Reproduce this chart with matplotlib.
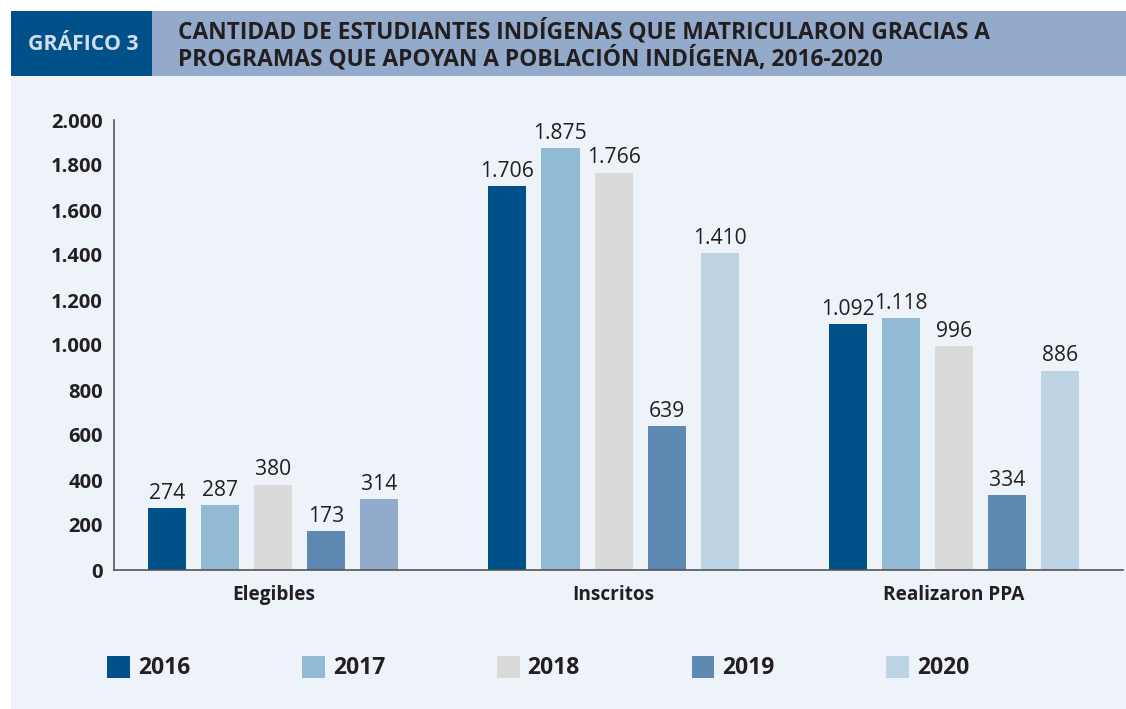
import matplotlib.pyplot as plt
import numpy as np
from matplotlib.patches import Rectangle, Patch

plt.rcParams['font.family'] = ['Open Sans', 'DejaVu Sans']

# Data
categories = ['Elegibles', 'Inscritos', 'Realizaron PPA']
years = ['2016', '2017', '2018', '2019', '2020']
values = {
    '2016': [274, 1706, 1092],
    '2017': [287, 1875, 1118],
    '2018': [380, 1766, 996],
    '2019': [173, 639, 334],
    '2020': [314, 1410, 886],
}
colors = ['#00508A', '#93BAD5', '#DADADA', '#5D89B3', '#BED4E4']
# first 2020 bar (Elegibles) is drawn in a different shade in the original
colors_2020 = ['#92AACB', '#BED4E4', '#BED4E4']

W, H = 1126, 709
fig = plt.figure(figsize=(W / 100, H / 100), dpi=100)
fig.patch.set_facecolor('white')

# background panel and header
fig.add_artist(Rectangle((11 / W, 0), 1 - 11 / W, 1 - 76 / H, transform=fig.transFigure,
                         facecolor='#EEF3FA', edgecolor='none', zorder=0))
fig.add_artist(Rectangle((11 / W, 1 - 76 / H), 1 - 11 / W, 65 / H, transform=fig.transFigure,
                         facecolor='#93AACB', edgecolor='none', zorder=0))
fig.add_artist(Rectangle((11 / W, 1 - 76 / H), 141 / W, 65 / H, transform=fig.transFigure,
                         facecolor='#00508A', edgecolor='none', zorder=0))
fig.text(83 / W, 1 - 44 / H, 'GRÁFICO 3', color='#D3DEEC', fontsize=15.3, fontweight='bold',
         ha='center', va='center')
fig.text(178 / W, 1 - 45 / H,
         'CANTIDAD DE ESTUDIANTES INDÍGENAS QUE MATRICULARON GRACIAS A\n'
         'PROGRAMAS QUE APOYAN A POBLACIÓN INDÍGENA, 2016-2020',
         color='#231F20', fontsize=16.4, fontweight='bold', ha='left', va='center',
         linespacing=1.1)

ax = fig.add_axes([114 / W, 1 - 570 / H, (1123 - 114) / W, (570 - 120) / H])
ax.set_facecolor('none')

x = np.arange(len(categories))
width = 0.112
step = 0.156

for i, yr in enumerate(years):
    c = colors_2020 if yr == '2020' else colors[i]
    bars = ax.bar(x + (i - 2) * step, values[yr], width, color=c, zorder=2)
    for bar in bars:
        h = bar.get_height()
        ax.annotate(f'{h:,}'.replace(',', '.'),
                    xy=(bar.get_x() + bar.get_width() / 2, h),
                    xytext=(0, 3), textcoords='offset points',
                    ha='center', va='bottom', fontsize=15.2, color='#231F20')

ax.set_xlim(-0.468, 2.497)
ax.set_ylim(0, 2000)
ax.set_yticks(np.arange(0, 2001, 200))
ax.set_yticklabels([f'{v:,}'.replace(',', '.') for v in range(0, 2001, 200)],
                   fontsize=14.5, fontweight='bold', color='#231F20')
ax.set_xticks(x)
ax.set_xticklabels(categories, fontsize=13.7, fontweight='bold', color='#231F20')
ax.tick_params(axis='both', length=0)
ax.tick_params(axis='y', pad=8)
ax.tick_params(axis='x', pad=11)
for s in ['top', 'right']:
    ax.spines[s].set_visible(False)
for s in ['left', 'bottom']:
    ax.spines[s].set_color('#555555')
    ax.spines[s].set_linewidth(1.2)

handles = [Patch(facecolor=colors[i], edgecolor='none') for i in range(len(years))]
fig.legend(handles, years, loc='center left', bbox_to_anchor=(107 / W, 1 - 668 / H),
           ncol=5, frameon=False, borderpad=0, borderaxespad=0,
           handlelength=1.0, handleheight=1.1, handletextpad=0.35, columnspacing=4.87,
           prop={'size': 16.5, 'weight': 'bold'}, labelcolor='#231F20')

fig.savefig('out.png', dpi=100)
